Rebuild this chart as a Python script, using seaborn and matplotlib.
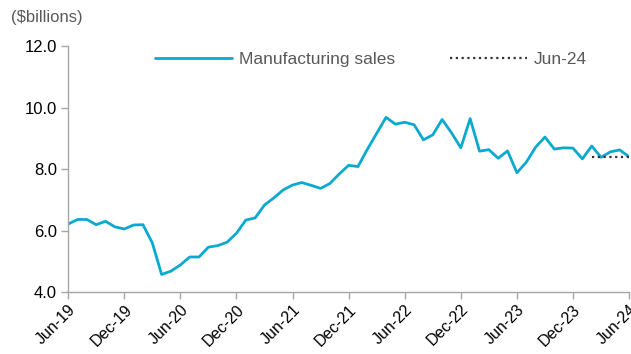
import matplotlib
matplotlib.use("Agg")
import matplotlib.pyplot as plt
import seaborn as sns
import pandas as pd
import numpy as np

sales = [6.21, 6.36, 6.36, 6.19, 6.30, 6.12, 6.05, 6.18, 6.19, 5.60,
         4.57, 4.68, 4.88, 5.14, 5.14, 5.46, 5.51, 5.62, 5.91, 6.34,
         6.41, 6.83, 7.06, 7.32, 7.48, 7.56, 7.47, 7.37, 7.53, 7.84,
         8.12, 8.08, 8.64, 9.16, 9.68, 9.46, 9.52, 9.44, 8.95, 9.11,
         9.61, 9.18, 8.69, 9.64, 8.58, 8.63, 8.35, 8.59, 7.88, 8.22,
         8.71, 9.04, 8.65, 8.69, 8.68, 8.33, 8.75, 8.38, 8.56, 8.62,
         8.40]
jun24_value = 8.40
jun24_start = 56  # index where the Jun-24 reference line starts
tick_labels = ["Jun-19", "Dec-19", "Jun-20", "Dec-20", "Jun-21", "Dec-21",
               "Jun-22", "Dec-22", "Jun-23", "Dec-23", "Jun-24"]
y_ticks = [4.0, 6.0, 8.0, 10.0, 12.0]

idx = np.arange(len(sales))
df = pd.DataFrame({"i": idx, "sales": sales})
ref = pd.DataFrame({"i": idx[jun24_start:], "v": [jun24_value] * (len(sales) - jun24_start)})

sns.set_style("white")
plt.rcParams["font.family"] = ["Liberation Sans", "DejaVu Sans"]

fig = plt.figure(figsize=(6.31, 3.54), dpi=100)
ax = fig.add_axes([0.108, 0.175, 0.889, 0.695])

blue = "#0aa9d0"
sns.lineplot(data=df, x="i", y="sales", ax=ax, color=blue, linewidth=2.0,
             label="Manufacturing sales")
sns.lineplot(data=ref, x="i", y="v", ax=ax, color="#333333", linewidth=1.6,
             linestyle=(0, (1, 1.6)), label="Jun-24")

ax.set_xlim(0, len(sales) - 1)
ax.set_ylim(4, 12)
ax.set_yticks(y_ticks)
ax.set_yticklabels([f"{v:.1f}" for v in y_ticks], fontsize=12, color="black")
ax.set_xticks(idx[::6])
ax.set_xticklabels(tick_labels, rotation=45, ha="right", rotation_mode="anchor",
                   fontsize=11.5, color="black")
ax.set_xlabel("")
ax.set_ylabel("")

for s in ["top", "right"]:
    ax.spines[s].set_visible(False)
for s in ["left", "bottom"]:
    ax.spines[s].set_color("#a6a6a6")
    ax.spines[s].set_linewidth(1.0)
ax.tick_params(axis="both", which="both", length=5, width=1.0, color="#a6a6a6",
               direction="out", bottom=True, left=True, pad=3)
ax.tick_params(axis="x", pad=2)

leg = ax.legend(loc="upper center", bbox_to_anchor=(0.54, 1.04), ncol=2, frameon=False,
                fontsize=12.5, handlelength=4.4, columnspacing=3.2, handletextpad=0.4)
for t in leg.get_texts():
    t.set_color("#595959")

fig.text(0.018, 0.95, "($billions)", fontsize=12, color="#595959", ha="left", va="center")

fig.savefig("out.png", dpi=100)
